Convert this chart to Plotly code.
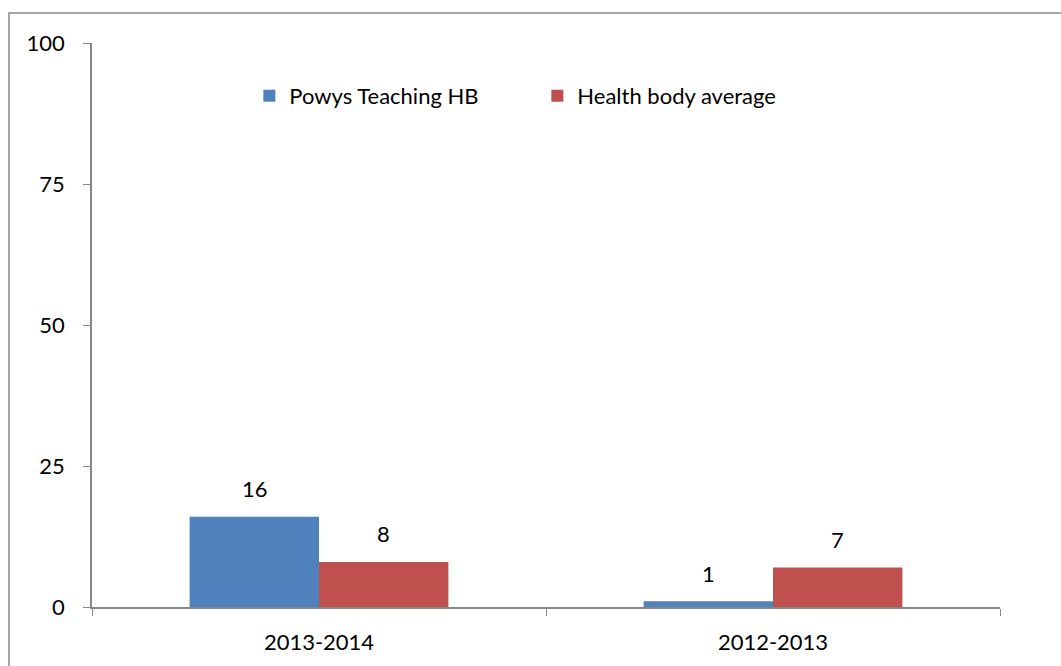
import plotly.graph_objects as go

categories = ["2013-2014", "2012-2013"]
series_names = ["Powys Teaching HB", "Health body average"]
powys_values = [16, 1]
average_values = [8, 7]
y_ticks = [0, 25, 50, 75, 100]

colors = ["#4F81BD", "#C0504D"]
FONT = "Lato"
fs = 22

fig = go.Figure()
for name, vals, col in zip(series_names, [powys_values, average_values], colors):
    fig.add_trace(go.Bar(x=categories, y=vals, name=name, marker=dict(color=col, line=dict(width=0))))

# data labels
for i, (vals, xs) in enumerate(zip([powys_values, average_values], [-64.5, 64.5])):
    for c, v in zip(categories, vals):
        fig.add_annotation(x=c, y=v, text=str(v), showarrow=False, xshift=xs, yshift=28,
                           yanchor="middle", font=dict(family=FONT, size=fs, color="black"))

# outer chart border
fig.add_shape(type="rect", xref="paper", yref="paper", x0=-0.0914, x1=1.2, y0=-0.2, y1=1.0533,
              line=dict(color="#888888", width=1.5), fillcolor="rgba(0,0,0,0)", layer="below")

fig.update_layout(
    width=1061, height=666,
    margin=dict(l=92, r=61, t=43, b=59),
    plot_bgcolor="white", paper_bgcolor="white",
    barmode="group", bargap=0.43, bargroupgap=0,
    font=dict(family=FONT, size=fs, color="black"),
    showlegend=True,
    legend=dict(orientation="h", x=0.1733, y=0.906, xanchor="left", yanchor="middle",
                font=dict(family=FONT, size=fs), bgcolor="rgba(0,0,0,0)",
                entrywidth=243, entrywidthmode="pixels"),
    xaxis=dict(type="category", range=[-0.5, 1.5], tickson="boundaries", ticks="outside",
               ticklen=7, tickcolor="#868686", showline=True, linecolor="#868686", linewidth=1.5,
               showgrid=False, ticklabelstandoff=15),
    yaxis=dict(range=[0, 100], tickvals=y_ticks, ticks="outside", ticklen=7, tickcolor="#868686",
               showline=True, linecolor="#868686", linewidth=1.5, showgrid=False, zeroline=False,
               ticklabelstandoff=14),
)

fig.write_html("out.html", config={"displayModeBar": False},
               post_script="document.body.style.margin='0px';")
